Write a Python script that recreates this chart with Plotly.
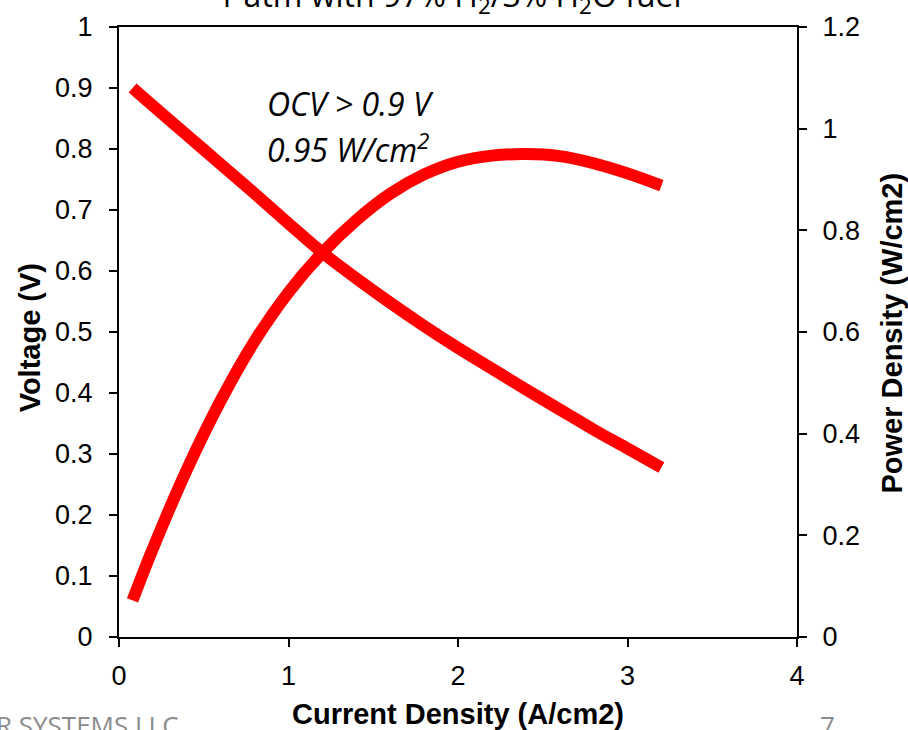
import plotly.graph_objects as go

# Polarization data for the single cell
current_density = [0.08, 0.2, 0.4, 0.6, 0.8, 1.0, 1.2, 1.4, 1.6, 1.8, 2.0,
                   2.2, 2.4, 2.6, 2.8, 3.0, 3.2]
voltage = [0.90, 0.871, 0.823, 0.775, 0.727, 0.678, 0.63, 0.588, 0.548, 0.51, 0.474,
           0.44, 0.406, 0.373, 0.34, 0.309, 0.278]
power_density = [0.072, 0.174, 0.329, 0.465, 0.582, 0.678, 0.756, 0.82, 0.872,
                 0.91, 0.935, 0.947, 0.95, 0.946, 0.932, 0.912, 0.888]

x_ticks = [0, 1, 2, 3, 4]
v_ticks = [0, 0.1, 0.2, 0.3, 0.4, 0.5, 0.6, 0.7, 0.8, 0.9, 1]
v_tick_text = ["0", "0.1", "0.2", "0.3", "0.4", "0.5", "0.6", "0.7", "0.8", "0.9", "1"]
p_ticks = [0, 0.2, 0.4, 0.6, 0.8, 1.0, 1.2]
p_tick_text = ["0", "0.2", "0.4", "0.6", "0.8", "1", "1.2"]

RED = "#FF0000"
SANS = "Liberation Sans, Arial, sans-serif"
SLIDE = "Open Sans, Lato, sans-serif"
TICK_FONT = dict(family=SANS, size=27, color="black")
TITLE_FONT = dict(family=SANS, size=29, color="black")

fig = go.Figure()
fig.add_trace(go.Scatter(x=current_density, y=voltage, mode="lines",
                         line=dict(color=RED, width=12, shape="spline", smoothing=1.0),
                         showlegend=False))
fig.add_trace(go.Scatter(x=current_density, y=power_density, mode="lines", yaxis="y2",
                         line=dict(color=RED, width=12, shape="spline", smoothing=1.0),
                         showlegend=False))

axis_common = dict(showgrid=False, zeroline=False, showline=True, linecolor="black",
                   linewidth=2, ticks="outside", ticklen=8, tickwidth=2,
                   tickcolor="black", tickfont=TICK_FONT)

fig.update_layout(
    width=908, height=730,
    margin=dict(l=119, r=111, t=25, b=93),
    plot_bgcolor="white", paper_bgcolor="white",
    xaxis=dict(range=[0, 4], tickvals=x_ticks, ticktext=[str(t) for t in x_ticks],
               mirror=True, ticklabelstandoff=6, **axis_common),
    yaxis=dict(range=[0, 1], tickvals=v_ticks, ticktext=v_tick_text,
               ticklabelstandoff=11, **axis_common),
    yaxis2=dict(range=[0, 1.2], tickvals=p_ticks, ticktext=p_tick_text, overlaying="y",
                side="right", ticklabelstandoff=10, **axis_common),
)

# Axis titles
fig.add_annotation(text="<b>Current Density (A/cm2)</b>", xref="paper", yref="paper",
                   x=0.5, y=-0.126, xanchor="center", yanchor="middle", showarrow=False,
                   font=TITLE_FONT)
fig.add_annotation(text="<b>Voltage (V)</b>", xref="paper", yref="paper",
                   x=-0.131, y=0.49, xanchor="center", yanchor="middle", textangle=-90,
                   showarrow=False, font=TITLE_FONT)
fig.add_annotation(text="<b>Power Density (W/cm2)</b>", xref="paper", yref="paper",
                   x=1.14, y=0.499, xanchor="center", yanchor="middle", textangle=-90,
                   showarrow=False, font=TITLE_FONT)

# Performance callouts
CALLOUT_FONT = dict(family=SLIDE, size=32, color="black")
fig.add_annotation(text="<i>OCV > 0.9 V</i>", x=0.86, y=0.874, xref="x", yref="y",
                   xanchor="left", yanchor="middle", showarrow=False, font=CALLOUT_FONT)
fig.add_annotation(text="<i>0.95 W/cm<sup>2</sup></i>", x=0.86, y=0.802, xref="x", yref="y",
                   xanchor="left", yanchor="middle", showarrow=False, font=CALLOUT_FONT)

# Slide heading, footer and page number
fig.add_annotation(text="1 atm with 97% H<sub>2</sub>/3% H<sub>2</sub>O fuel",
                   xref="paper", yref="paper", x=0.488, y=1.0, yshift=4,
                   xanchor="center", yanchor="bottom", showarrow=False,
                   font=dict(family=SLIDE, size=32, color="black"))
fig.add_annotation(text="R SYSTEMS LLC", xref="paper", yref="paper", x=0.0, y=-0.112,
                   xshift=62, xanchor="right", yanchor="top", showarrow=False,
                   font=dict(family=SLIDE, size=26, color="#8C8C8C"))
fig.add_annotation(text="7", xref="paper", yref="paper", x=1.0, y=-0.112,
                   xshift=30, xanchor="center", yanchor="top", showarrow=False,
                   font=dict(family=SLIDE, size=26, color="#8C8C8C"))

fig.write_html("out.html")
